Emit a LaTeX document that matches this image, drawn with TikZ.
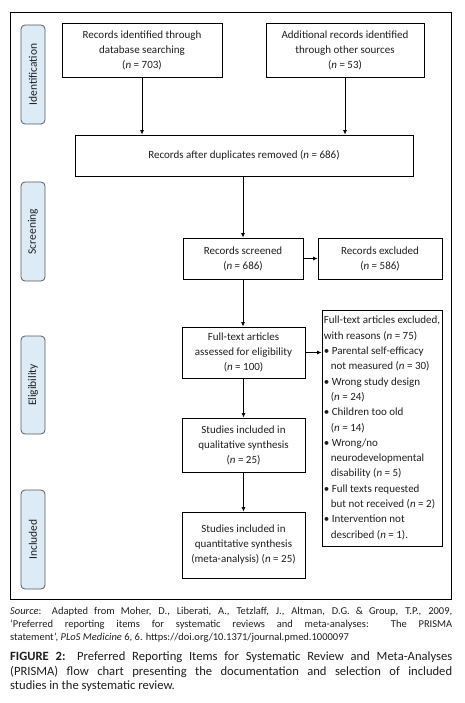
\documentclass[tikz,border=0pt]{standalone}
\usepackage{fontspec}
\setmainfont{Carlito}
\usetikzlibrary{arrows.meta}
\definecolor{phasefill}{HTML}{DDEBF7}
\definecolor{phasedraw}{HTML}{5A5A5A}
\definecolor{txt}{HTML}{1E1E1E}
\begin{document}
\begin{tikzpicture}[x=1pt,y=-1pt,
  box/.style={draw, line width=0.8pt, align=center, inner sep=0pt, text=txt,
    font=\fontsize{11}{15}\selectfont},
  phase/.style={draw=phasedraw, fill=phasefill, rounded corners=4pt, line width=0.8pt,
    inner sep=0pt, rotate=90, minimum height=24pt, text=txt, font=\fontsize{11.5}{13}\selectfont},
  arr/.style={-{Latex[length=4.5pt,width=4pt]}, line width=0.8pt}]
\useasboundingbox (0,0) rectangle (464,703);
\node[draw, line width=0.8pt, minimum width=441pt, minimum height=587pt, inner sep=0pt] (frame) at (230.5,305.5) {};
% phases
\node[phase, minimum width=99pt] (p1) at (33,74.5) {Identification};
\node[phase, minimum width=99pt] (p2) at (33,231.5) {Screening};
\node[phase, minimum width=98pt] (p3) at (33,385) {Eligibility};
\node[phase, minimum width=99pt] (p4) at (33,539.5) {Included};
% boxes
\node[box, minimum width=160pt, minimum height=54pt] (b1) at (142,50) {Records identified through\\database searching\\(\textit{n} = 703)};
\node[box, minimum width=158pt, minimum height=54pt] (b2) at (345,50) {Additional records identified\\through other sources\\(\textit{n} = 53)};
\node[box, minimum width=338pt, minimum height=41pt] (b3) at (244,155.5) {Records after duplicates removed (\textit{n} = 686)};
\node[box, minimum width=120pt, minimum height=41pt] (scr) at (243,258.5) {Records screened\\(\textit{n} = 686)};
\node[box, minimum width=124pt, minimum height=41pt] (exc) at (380,258.5) {Records excluded\\(\textit{n} = 586)};
\node[box, minimum width=123pt, minimum height=51pt] (ft) at (243.5,352.5) {Full-text articles\\assessed for eligibility\\(\textit{n} = 100)};
\node[box, minimum width=120pt, minimum height=236pt, align=left, font=\fontsize{11}{15.3}\selectfont] (ftx) at (382,428) {Full-text articles excluded,\\
with reasons (\textit{n} = 75)\\
• Parental self-efficacy\\
\hspace*{7pt}not measured (\textit{n} = 30)\\
• Wrong study design\\
\hspace*{7pt}(\textit{n} = 24)\\
• Children too old\\
\hspace*{7pt}(\textit{n} = 14)\\
• Wrong/no\\
\hspace*{7pt}neurodevelopmental\\
\hspace*{7pt}disability (\textit{n} = 5)\\
• Full texts requested\\
\hspace*{7pt}but not received (\textit{n} = 2)\\
• Intervention not\\
\hspace*{7pt}described (\textit{n} = 1).};
\node[box, minimum width=123pt, minimum height=54pt] (qual) at (243.5,445) {Studies included in\\qualitative synthesis\\(\textit{n} = 25)};
\node[box, minimum width=123pt, minimum height=66pt] (quant) at (243.5,545) {Studies included in\\quantitative synthesis\\(meta-analysis) (\textit{n} = 25)};
% arrows
\draw[arr] (b1.south) -- (b1.south |- b3.north);
\draw[arr] (b2.south) -- (b2.south |- b3.north);
\draw[arr] (scr.north |- b3.south) -- (scr.north);
\draw[arr] (scr.east) -- (exc.west);
\draw[arr] (scr.south) -- (scr.south |- ft.north);
\draw[arr] (ft.east) -- (ft.east -| ftx.west);
\draw[arr] (ft.south) -- (qual.north);
\draw[arr] (qual.south) -- (quant.north);
% captions
\node[anchor=north west, inner sep=0pt, align=left, text=txt, font=\fontsize{10.5}{13}\selectfont] (src) at (10,607)
{\makebox[442pt][s]{\textit{Source}: Adapted from Moher, D., Liberati, A., Tetzlaff, J., Altman, D.G. \& Group, T.P., 2009,}\\
\makebox[442pt][s]{`Preferred reporting items for systematic reviews and meta-analyses: The PRISMA}\\
statement', \textit{PLoS Medicine} 6, 6. https://doi.org/10.1371/journal.pmed.1000097};
\node[anchor=north west, inner sep=0pt, align=left, text=txt, font=\fontsize{12.6}{14.5}\selectfont] (cap) at (10,652)
{\makebox[442pt][s]{\textbf{FIGURE 2:} Preferred Reporting Items for Systematic Review and Meta-Analyses}\\
\makebox[442pt][s]{(PRISMA) flow chart presenting the documentation and selection of included}\\
studies in the systematic review.};
\end{tikzpicture}
\end{document}
